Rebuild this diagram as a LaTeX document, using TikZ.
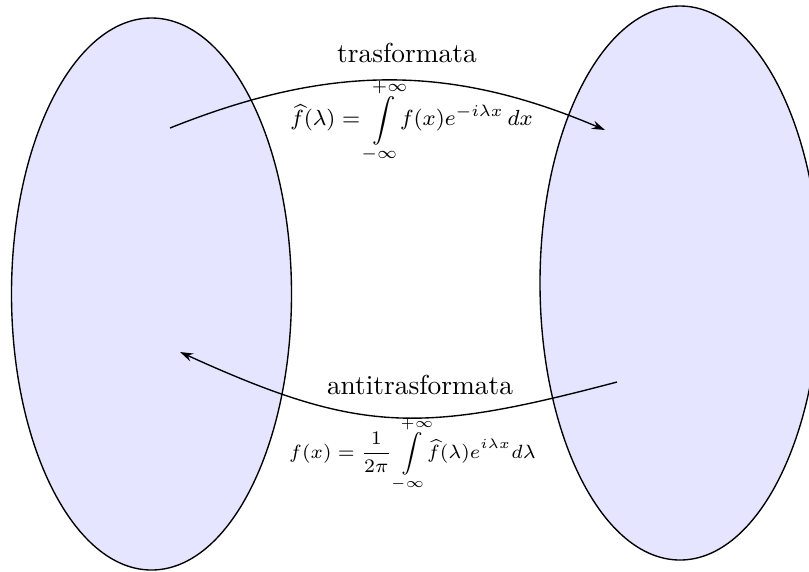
\documentclass[tikz,border=0pt]{standalone}
\usepackage{amsmath,amssymb,mathtools}
\usepackage{tikz}
\usetikzlibrary{arrows.meta,positioning}

\begin{document}
\begin{tikzpicture}[x=1.283cm,y=1.283cm]
    \useasboundingbox (0,0) rectangle (8.09,5.71);
    \clip (0,0) rectangle (8.09,5.71);

    \coordinate (L) at (1.515,2.77);
    \coordinate (R) at (6.80,2.88);

    \filldraw[fill=blue!10, draw=black, line width=0.5pt] (L) ellipse [x radius=1.40, y radius=2.76];
    \filldraw[fill=blue!10, draw=black, line width=0.5pt] (R) ellipse [x radius=1.40, y radius=2.77];

    \coordinate (A1) at (1.70,4.43);
    \coordinate (B1) at (6.05,4.41);
    \coordinate (A2) at (6.17,1.89);
    \coordinate (B2) at (1.80,2.19);

    \draw[line width=0.5pt, -{Stealth[length=1.7mm,width=1.1mm,inset=0.6mm]}]
        (A1) .. controls (3.3,5.07) and (4.5,5.07) .. (B1);
    \draw[line width=0.5pt, -{Stealth[length=1.7mm,width=1.1mm,inset=0.6mm]}]
        (A2) .. controls (4.2,1.37) and (3.6,1.37) .. (B2);

    \node (trasf) at (4.07,5.18) {trasformata};
    \node (antitrasf) at (4.20,1.86) {antitrasformata};

    \node[font=\footnotesize] (formtrasf) at (4.115,4.50)
        {$\displaystyle \widehat{f}(\lambda) = \smashoperator[r]{\int\limits_{-\infty}^{+\infty}} f(x)e^{-i\lambda x}\,dx$};
    \node[font=\scriptsize] (formanti) at (4.125,1.17)
        {$\displaystyle f(x) = \frac{1}{2\pi}\smashoperator[r]{\int\limits_{-\infty}^{+\infty}} \widehat{f}(\lambda)e^{i\lambda x}d\lambda$};
\end{tikzpicture}
\end{document}
